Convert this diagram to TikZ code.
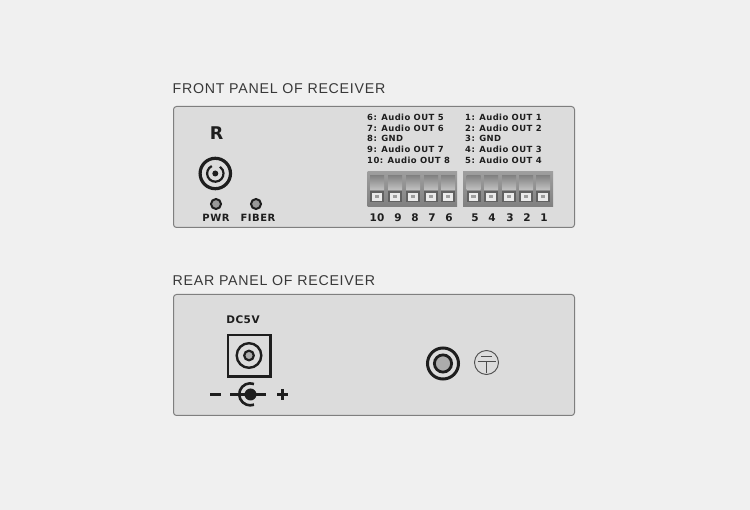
\documentclass[tikz,border=0pt]{standalone}
\usepackage{fontspec}
\setmainfont{DejaVu Sans}
\newfontfamily\titlefont[LetterSpace=5.2]{Liberation Sans}
\newfontfamily\lblfont[LetterSpace=5]{DejaVu Sans}
\definecolor{bgc}{HTML}{F0F0F0}
\definecolor{panelc}{HTML}{DCDCDC}
\definecolor{edgec}{HTML}{7F7F7F}
\definecolor{inkc}{HTML}{1E1E1E}
\tikzset{
  panel/.style={draw=edgec,line width=1pt,fill=panelc,rounded corners=3pt},
  paneltitle/.style={anchor=west,inner sep=0,text=black!78,font=\titlefont\fontsize{14.2}{15}\selectfont},
  pinlbl/.style={anchor=west,inner sep=0,text=inkc,font=\lblfont\bfseries\fontsize{8.45}{9}\selectfont},
  numlbl/.style={anchor=center,inner sep=0,text=inkc,font=\bfseries\fontsize{10.5}{11}\selectfont},
  ledlbl/.style={anchor=center,inner sep=0,text=inkc,font=\lblfont\bfseries\fontsize{10}{10}\selectfont},
  ring/.style={draw=inkc,fill=none},
  led/.style={circle,draw=inkc,line width=2pt,fill=gray!80,minimum size=10pt,inner sep=0},
}
\newcommand{\termunit}[1]{%
  \shade[top color=black!48,bottom color=black!24] (#1-7,176) rectangle (#1+7,190);
  \fill[black!62] (#1-7,191) rectangle (#1+7,202);
  \fill[black!8] (#1-4.6,192.6) rectangle (#1+4.6,200.6);
  \fill[black!38] (#1-2.2,194.8) rectangle (#1+2.2,198.4);
}
\begin{document}
\begin{tikzpicture}[x=1pt,y=-1pt]
\useasboundingbox (0,0) rectangle (750,510);
\fill[bgc] (0,0) rectangle (750,510);
% titles
\node[paneltitle] (t1) at (172.5,89) {FRONT PANEL OF RECEIVER};
\node[paneltitle] (t2) at (172.5,281) {REAR PANEL OF RECEIVER};
% panels
\draw[panel] (173.5,106.5) rectangle (574.5,227.5);
\draw[panel] (173.5,294.5) rectangle (574.5,415.5);
% front left
\node[inner sep=0,text=inkc,font=\bfseries\fontsize{17.5}{18}\selectfont] (r) at (216.5,133) {R};
\draw[ring,line width=3.2pt] (215.3,173.5) circle (15.2pt);
\draw[ring,line width=2.2pt] (215.3,173.5) ++(115:8.2pt) arc (115:415:8.2pt);
\fill[inkc] (215.3,173.5) circle (3pt);
\node[led] (pwr) at (216,204) {};
\node[led] (fiber) at (256,204) {};
\node[ledlbl] (pwrl) at (216,217.5) {PWR};
\node[ledlbl] (fiberl) at (258,217.5) {FIBER};
% pin labels
\node[pinlbl] at (367,117) {6: Audio OUT 5};
\node[pinlbl] at (367,128) {7: Audio OUT 6};
\node[pinlbl] at (367,138.5) {8: GND};
\node[pinlbl] at (367,149) {9: Audio OUT 7};
\node[pinlbl] at (367,160) {10: Audio OUT 8};
\node[pinlbl] at (465,117) {1: Audio OUT 1};
\node[pinlbl] at (465,128) {2: Audio OUT 2};
\node[pinlbl] at (465,138.5) {3: GND};
\node[pinlbl] at (465,149) {4: Audio OUT 3};
\node[pinlbl] at (465,160) {5: Audio OUT 4};
% terminal blocks
\shade[top color=black!38,bottom color=black!50] (367.5,172) rectangle (457,207);
\shade[top color=black!38,bottom color=black!50] (463,172) rectangle (553,207);
\foreach \x in {377,395,413,431,448,473.5,491,509,526,543} {\termunit{\x}}
% numbers
\foreach \x/\n in {377/10,398/9,415/8,432/7,449/6,475/5,492/4,510/3,527/2,544/1}
  \node[numlbl] (n\n) at (\x,218) {\n};
% rear left
\node[inner sep=0,text=inkc,font=\lblfont\bfseries\fontsize{10.5}{11}\selectfont] (dc) at (243,319.5) {DC5V};
\draw[draw=inkc,line width=2.5pt] (228,335) rectangle (270.5,376.5);
\draw[ring,line width=2.4pt] (249,355.5) circle (12.3pt);
\fill[gray!65,draw=inkc,line width=2.2pt] (249,355.5) circle (4.8pt);
% polarity symbol
\draw[inkc,line width=2.6pt] (210,394.5) -- (221,394.5);
\draw[inkc,line width=2.6pt] (230,394.5) -- (266,394.5);
\draw[inkc,line width=2.6pt] (254,384) arc (70:290:11pt);
\fill[inkc] (250.5,394.5) circle (6pt);
\draw[inkc,line width=2.6pt] (277,394.5) -- (288,394.5);
\draw[inkc,line width=2.6pt] (282.5,389) -- (282.5,400);
% rear jack
\draw[ring,line width=3pt] (443,363.5) circle (15.5pt);
\fill[gray!65,draw=inkc,line width=2.8pt] (443,363.5) circle (8.6pt);
% ground symbol
\draw[draw=black!70,line width=.9pt] (486.5,362.5) circle (12pt);
\draw[black!70,line width=.9pt] (481,356.5) -- (492,356.5);
\draw[black!70,line width=.9pt] (477.5,361.5) -- (495.5,361.5);
\draw[black!70,line width=.9pt] (486.5,361.5) -- (486.5,373.5);
\end{tikzpicture}
\end{document}
